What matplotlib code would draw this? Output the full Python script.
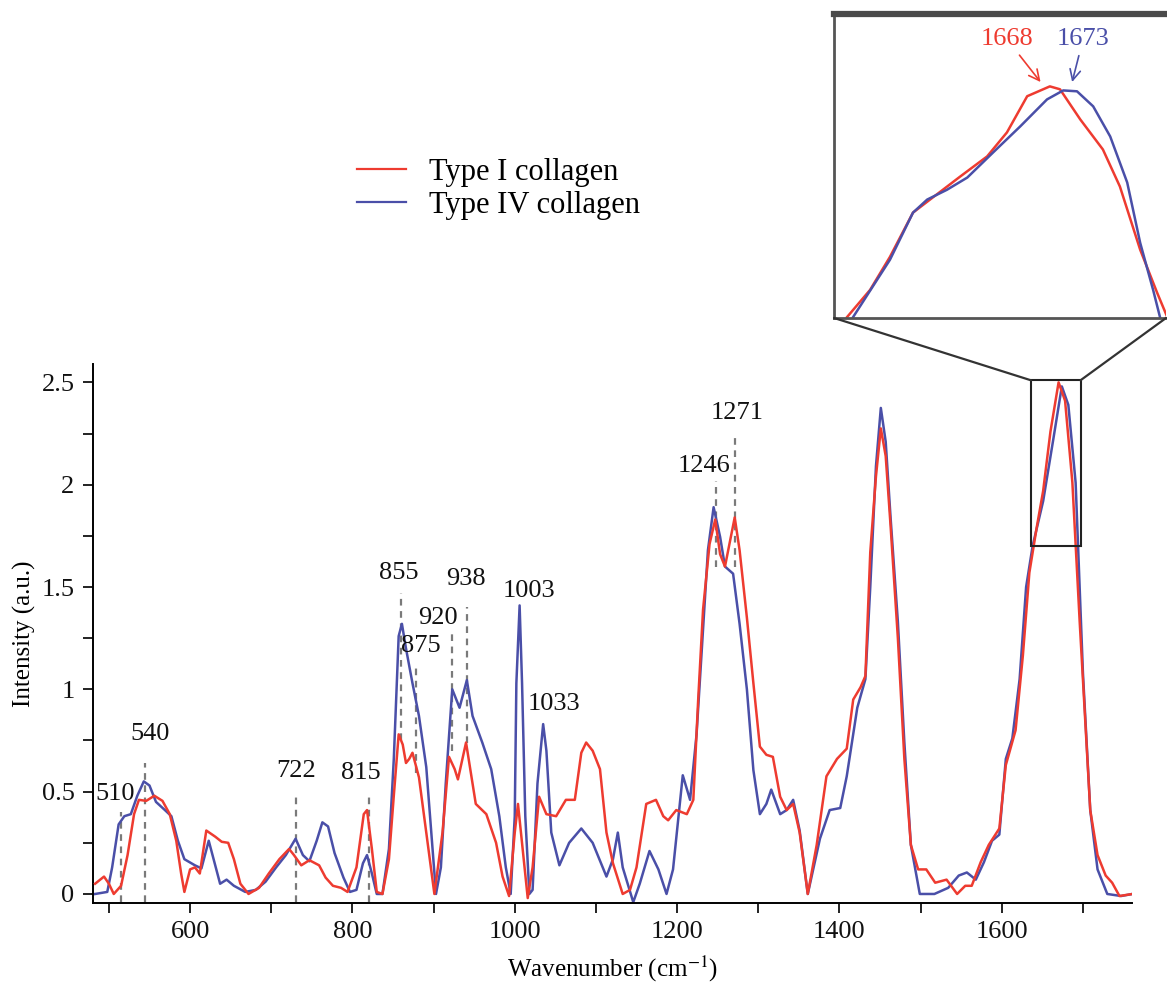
import matplotlib
matplotlib.use("Agg")
import matplotlib.pyplot as plt
from matplotlib.lines import Line2D
from matplotlib.patches import Rectangle, ConnectionPatch
from matplotlib.ticker import MultipleLocator, FuncFormatter

# -----------------------
# Data
# -----------------------
wn_type1 = [483, 494, 500, 506, 515, 523, 531, 537, 546, 556, 566, 575, 583, 589, 593,
            600, 606, 612, 620, 631, 639, 647, 654, 662, 672, 685, 697, 710, 722, 728,
            737, 747, 759, 767, 776, 786, 794, 805, 814, 818, 824, 830, 837, 845, 851,
            857, 862, 866, 870, 874, 882, 891, 901, 911, 919, 926, 930, 940, 952, 965,
            977, 985, 993, 1000, 1004, 1009, 1016, 1022, 1030, 1039, 1051, 1063, 1074, 1082, 1088,
            1096, 1105, 1113, 1121, 1133, 1142, 1150, 1162, 1174, 1183, 1189, 1199, 1212, 1220, 1226,
            1232, 1240, 1247, 1253, 1259, 1271, 1277, 1286, 1294, 1302, 1310, 1318, 1327, 1335, 1343,
            1351, 1361, 1372, 1384, 1397, 1409, 1417, 1426, 1432, 1438, 1445, 1451, 1457, 1463, 1472,
            1480, 1488, 1497, 1507, 1518, 1532, 1545, 1555, 1563, 1574, 1584, 1597, 1605, 1617, 1626,
            1634, 1643, 1651, 1660, 1670, 1678, 1687, 1696, 1703, 1709, 1718, 1728, 1736, 1745, 1761]
int_type1 = [0.05, 0.085, 0.05, 0.00, 0.04, 0.19, 0.39, 0.46, 0.455, 0.48, 0.455, 0.39, 0.26, 0.10, 0.01,
             0.12, 0.13, 0.10, 0.31, 0.28, 0.255, 0.25, 0.17, 0.05, 0.00, 0.03, 0.10, 0.17, 0.22, 0.19,
             0.14, 0.165, 0.14, 0.08, 0.04, 0.03, 0.01, 0.13, 0.39, 0.41, 0.22, 0.01, 0.00, 0.17, 0.48,
             0.78, 0.73, 0.64, 0.66, 0.69, 0.57, 0.30, 0.00, 0.30, 0.67, 0.61, 0.56, 0.74, 0.44, 0.39,
             0.25, 0.085, -0.01, 0.30, 0.44, 0.25, -0.02, 0.13, 0.475, 0.39, 0.38, 0.46, 0.46, 0.69, 0.74,
             0.70, 0.61, 0.30, 0.15, 0.00, 0.02, 0.13, 0.44, 0.46, 0.38, 0.36, 0.41, 0.39, 0.46, 0.95,
             1.39, 1.71, 1.83, 1.66, 1.60, 1.84, 1.68, 1.35, 1.03, 0.72, 0.68, 0.67, 0.475, 0.41, 0.44,
             0.30, 0.00, 0.24, 0.575, 0.66, 0.71, 0.95, 1.01, 1.065, 1.67, 2.04, 2.275, 2.14, 1.80, 1.25,
             0.66, 0.24, 0.12, 0.12, 0.055, 0.07, 0.00, 0.04, 0.04, 0.155, 0.24, 0.32, 0.63, 0.80, 1.165,
             1.57, 1.79, 1.97, 2.26, 2.50, 2.41, 2.01, 1.33, 0.83, 0.41, 0.19, 0.09, 0.055, -0.01, 0.00]

wn_type4 = [483, 498, 504, 512, 519, 527, 535, 543, 550, 558, 569, 577, 585, 593, 606,
            614, 623, 629, 637, 645, 654, 668, 681, 693, 706, 718, 730, 739, 747, 756,
            763, 770, 778, 789, 797, 805, 813, 818, 824, 830, 837, 845, 851, 857, 861,
            866, 874, 882, 891, 899, 903, 909, 915, 923, 932, 941, 948, 960, 971, 981,
            989, 995, 1000, 1002, 1006, 1009, 1013, 1018, 1022, 1028, 1035, 1039, 1045, 1055, 1067,
            1082, 1096, 1113, 1121, 1127, 1133, 1146, 1154, 1166, 1177, 1187, 1195, 1207, 1216, 1224,
            1232, 1238, 1245, 1253, 1259, 1269, 1277, 1286, 1294, 1302, 1310, 1316, 1327, 1335, 1343,
            1351, 1361, 1376, 1388, 1401, 1409, 1422, 1432, 1438, 1445, 1451, 1457, 1463, 1472, 1480,
            1488, 1499, 1517, 1534, 1547, 1557, 1568, 1578, 1588, 1597, 1605, 1613, 1622, 1630, 1638,
            1651, 1663, 1674, 1682, 1691, 1700, 1709, 1718, 1730, 1747, 1761]
int_type4 = [0.00, 0.01, 0.13, 0.34, 0.38, 0.39, 0.48, 0.55, 0.53, 0.45, 0.41, 0.38, 0.26, 0.17, 0.14,
             0.125, 0.26, 0.17, 0.05, 0.07, 0.04, 0.01, 0.02, 0.06, 0.13, 0.19, 0.27, 0.19, 0.16, 0.26,
             0.35, 0.33, 0.20, 0.08, 0.01, 0.02, 0.15, 0.19, 0.10, 0.00, 0.00, 0.22, 0.66, 1.26, 1.32,
             1.20, 1.03, 0.87, 0.62, 0.21, 0.00, 0.13, 0.54, 1.00, 0.91, 1.045, 0.87, 0.74, 0.61, 0.38,
             0.13, 0.00, 0.38, 1.03, 1.41, 1.03, 0.38, 0.00, 0.02, 0.54, 0.83, 0.70, 0.30, 0.14, 0.25,
             0.32, 0.25, 0.085, 0.17, 0.30, 0.13, -0.04, 0.05, 0.21, 0.12, 0.00, 0.12, 0.58, 0.46, 0.78,
             1.29, 1.68, 1.89, 1.745, 1.60, 1.565, 1.32, 1.00, 0.605, 0.39, 0.44, 0.51, 0.39, 0.41, 0.46,
             0.31, 0.00, 0.27, 0.41, 0.42, 0.575, 0.91, 1.05, 1.50, 2.09, 2.375, 2.21, 1.84, 1.33, 0.74,
             0.24, 0.00, 0.00, 0.03, 0.09, 0.105, 0.07, 0.155, 0.26, 0.29, 0.66, 0.76, 1.05, 1.50, 1.70,
             1.92, 2.21, 2.48, 2.39, 2.01, 1.08, 0.41, 0.12, 0.00, -0.01, 0.00]

# zoomed amide I band (inset)
inset_wn_type1 = [1619.2, 1624.9, 1629.8, 1635.5, 1639.7, 1647.1, 1653.8, 1658.7, 1663.7,
                  1669.3, 1671.8, 1676.8, 1682.4, 1686.6, 1691.6, 1695.8, 1698.3]
inset_int_type1 = [1.703, 1.797, 1.911, 2.064, 2.109, 2.188, 2.258, 2.341, 2.466,
                   2.500, 2.490, 2.386, 2.282, 2.154, 1.936, 1.787, 1.703]
inset_wn_type4 = [1620.7, 1629.8, 1635.5, 1639.0, 1643.9, 1648.9, 1655.3, 1662.0, 1668.6,
                  1672.6, 1676.0, 1680.0, 1684.2, 1688.4, 1691.6, 1694.8, 1696.5]
inset_int_type4 = [1.703, 1.901, 2.064, 2.109, 2.143, 2.185, 2.272, 2.362, 2.455,
                   2.486, 2.483, 2.431, 2.327, 2.168, 1.960, 1.797, 1.703]

peak_labels = ["510", "540", "722", "815", "855", "875", "920", "938", "1003", "1033", "1246", "1271"]

RED = "#EE3B30"
BLUE = "#4A4FA8"
GUIDE = "#7a7a7a"

plt.rcParams.update({
    "font.family": "Liberation Serif",
    "mathtext.fontset": "stix",
    "font.size": 19,
})

fig = plt.figure(figsize=(11.67, 9.86), dpi=100)
ax = fig.add_axes([0.0794, 0.0842, 0.8903, 0.5467])

# -----------------------
# Dashed guides at the marked bands
# -----------------------
guide_x = [515, 544, 730, 820, 860, 878, 923, 941, 1248, 1271]
guide_y0 = [-0.04, -0.04, -0.04, -0.04, 0.75, 0.59, 0.70, 0.74, 1.60, 1.60]
guide_y1 = [0.40, 0.64, 0.50, 0.50, 1.47, 1.13, 1.29, 1.40, 2.02, 2.25]
ax.vlines(guide_x, guide_y0, guide_y1, colors=GUIDE, linestyles=(0, (3, 2.5)), lw=1.6, zorder=1)

# -----------------------
# Spectra
# -----------------------
ax.plot(wn_type1, int_type1, color=RED, lw=1.8, zorder=3)
ax.plot(wn_type4, int_type4, color=BLUE, lw=1.8, zorder=2)

# -----------------------
# Peak labels
# -----------------------
label_x = [508, 551, 731, 810, 857, 884, 905, 940, 1018, 1048, 1233, 1274]
label_y = [0.49, 0.78, 0.60, 0.59, 1.57, 1.21, 1.35, 1.54, 1.48, 0.93, 2.09, 2.35]
for txt, lx, ly in zip(peak_labels, label_x, label_y):
    ax.text(lx, ly, txt, ha="center", va="center", fontsize=19, color="#111111", zorder=4)

# -----------------------
# Axes styling
# -----------------------
ax.set_xlim(480, 1760)
ax.set_ylim(-0.044, 2.59)
ax.xaxis.set_major_locator(MultipleLocator(200))
ax.xaxis.set_minor_locator(MultipleLocator(100))
ax.yaxis.set_major_locator(MultipleLocator(0.5))
ax.yaxis.set_minor_locator(MultipleLocator(0.25))
ax.yaxis.set_major_formatter(FuncFormatter(lambda v, p: f"{v:g}"))
ax.tick_params(which="both", direction="out", length=7, width=1.3, colors="#111111")
ax.tick_params(labelsize=19, pad=6)
ax.spines["top"].set_visible(False)
ax.spines["right"].set_visible(False)
ax.spines["left"].set_linewidth(1.4)
ax.spines["bottom"].set_linewidth(1.4)
ax.set_xlabel("Wavenumber (cm$^{-1}$)", fontsize=18, labelpad=8)
ax.set_ylabel("Intensity (a.u.)", fontsize=18, labelpad=4)

# -----------------------
# Zoom box + inset
# -----------------------
box_x0, box_x1, box_y0, box_y1 = 1636, 1697, 1.70, 2.51
ax.add_patch(Rectangle((box_x0, box_y0), box_x1 - box_x0, box_y1 - box_y0,
                       fill=False, ec="#222222", lw=1.5, zorder=5))

axins = fig.add_axes([0.7147, 0.6775, 0.2845, 0.3083])
axins.plot(inset_wn_type1, inset_int_type1, color=RED, lw=1.8)
axins.plot(inset_wn_type4, inset_int_type4, color=BLUE, lw=1.8)
axins.set_xlim(1616, 1698)
axins.set_ylim(1.70, 2.75)
axins.set_xticks([])
axins.set_yticks([])
axins.spines["right"].set_visible(False)
axins.spines["top"].set_linewidth(4.5)
axins.spines["top"].set_color("#4a4a4a")
for s in ("left", "bottom"):
    axins.spines[s].set_linewidth(2)
    axins.spines[s].set_color("#555555")

axins.annotate("1668", xy=(1667.0, 2.515), xytext=(1658.7, 2.663), color=RED,
               fontsize=19, ha="center", va="center",
               arrowprops=dict(arrowstyle="->", color=RED, lw=1.2, shrinkA=2, shrinkB=0))
axins.annotate("1673", xy=(1674.8, 2.515), xytext=(1677.5, 2.663), color=BLUE,
               fontsize=19, ha="center", va="center",
               arrowprops=dict(arrowstyle="->", color=BLUE, lw=1.2, shrinkA=2, shrinkB=0))

for xa, xb in ((box_x0, 0.0), (box_x1, 1.0)):
    con = ConnectionPatch(xyA=(xa, box_y1), coordsA=ax.transData,
                          xyB=(xb, 0.0), coordsB=axins.transAxes,
                          color="#333333", lw=1.6)
    fig.add_artist(con)

# -----------------------
# Legend
# -----------------------
handles = [Line2D([], [], color=RED, lw=1.6), Line2D([], [], color=BLUE, lw=1.6)]
fig.legend(handles, ["Type I collagen", "Type IV collagen"],
           loc="upper left", bbox_to_anchor=(357 / 1167, 1 - 158 / 986),
           frameon=False, fontsize=22, handlelength=1.6, handletextpad=0.75,
           labelspacing=0.12, borderpad=0, borderaxespad=0)

fig.savefig("out.png", dpi=100)
